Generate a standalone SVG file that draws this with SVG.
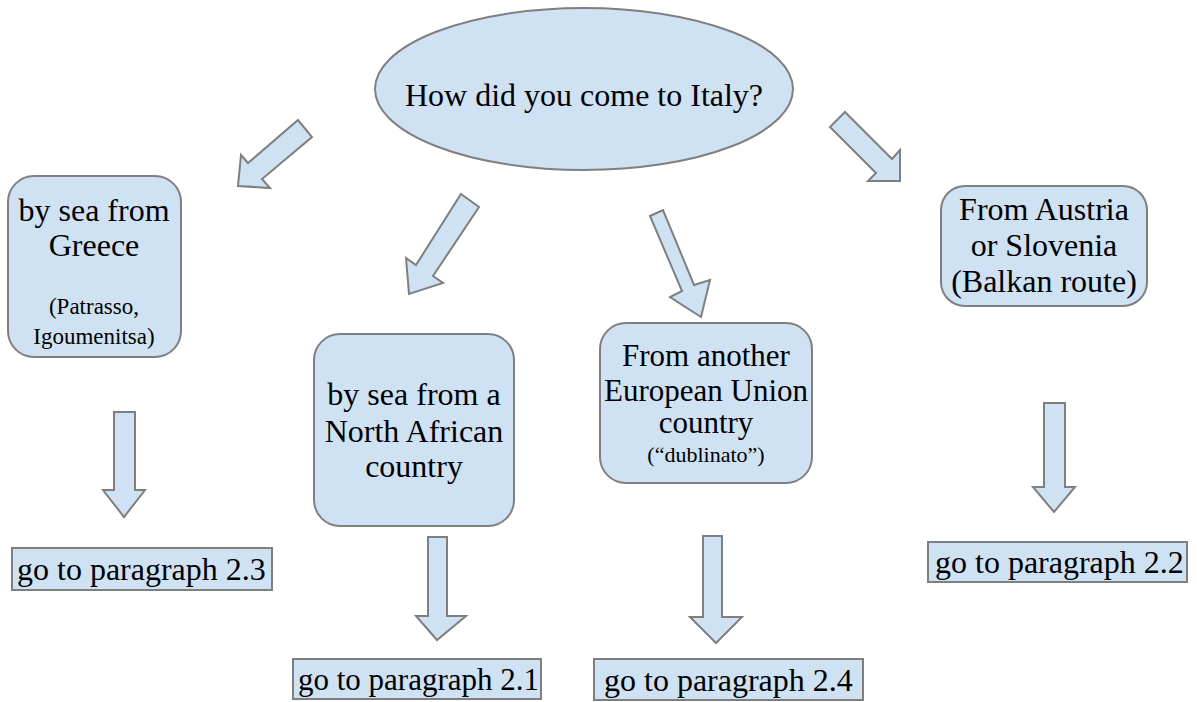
<svg xmlns="http://www.w3.org/2000/svg" width="1197" height="702" viewBox="0 0 1197 702">
<style>
.s{fill:#cfe2f3;stroke:#7f7f7f;stroke-width:2}
text{font-size:32px;fill:#000}
.m{text-anchor:middle}
.sm{font-size:23px}
.e{font-size:31px}
</style>
<rect width="1197" height="702" fill="#fff"/>
<g font-family="Liberation Serif, Times New Roman, serif">
<g id="q">
<ellipse class="s" cx="584" cy="89" rx="209" ry="81"/>
<text class="m" x="584" y="106">How did you come to Italy?</text>
</g>
<g id="greece">
<rect class="s" x="8" y="176" width="173" height="181" rx="26"/>
<text class="m" x="94" y="221">by sea from</text>
<text class="m" x="94" y="256">Greece</text>
<text class="m sm" x="94" y="314">(Patrasso,</text>
<text class="m sm" x="94" y="344">Igoumenitsa)</text>
</g>
<g id="africa">
<rect class="s" x="314" y="334" width="200" height="192" rx="26"/>
<text class="m" x="414" y="405">by sea from a</text>
<text class="m" x="414" y="442">North African</text>
<text class="m" x="414" y="477">country</text>
</g>
<g id="eu">
<rect class="s" x="600" y="323" width="212" height="160" rx="26"/>
<text class="m e" x="706" y="366">From another</text>
<text class="m e" x="706" y="401">European Union</text>
<text class="m e" x="706" y="433">country</text>
<text class="m sm" x="706" y="462" style="font-size:22px">(“dublinato”)</text>
</g>
<g id="austria">
<rect class="s" x="941" y="186" width="206" height="120" rx="24"/>
<text class="m" x="1044" y="220">From Austria</text>
<text class="m" x="1044" y="256"> or Slovenia</text>
<text class="m" x="1044" y="292">(Balkan route)</text>
</g>
<g id="p23">
<rect class="s" x="12" y="548" width="260" height="42"/>
<text x="17" y="580">go to paragraph 2.3</text>
</g>
<g id="p21">
<rect class="s" x="293" y="659" width="248" height="40"/>
<text x="298" y="690" style="font-size:31px">go to paragraph 2.1</text>
</g>
<g id="p24">
<rect class="s" x="594" y="659" width="269" height="41"/>
<text x="604" y="691">go to paragraph 2.4</text>
</g>
<g id="p22">
<rect class="s" x="928" y="542" width="259" height="40"/>
<text x="935" y="573">go to paragraph 2.2</text>
</g>
</g>
<g id="connectors">
<polygon class="s" points="298,120 312,137 262,179 270,188 238,186 241,155 248,163"/>
<polygon class="s" points="461,194 479,207 433,276 443,283 409,294 406,258 416,265"/>
<polygon class="s" points="650,216 663,210 694,285 710,280 701,317 670,297 682,291"/>
<polygon class="s" points="845,112 892,159 900,150 900,181 868,181 876,173 830,127"/>
<polygon class="s" points="114,412 135,412 135,490 145,490 124,517 103,490 114,490"/>
<polygon class="s" points="428,537 447,537 447,616 466,616 437,640 416,616 428,616"/>
<polygon class="s" points="703,536 722,536 722,617 742,617 716,643 690,617 703,617"/>
<polygon class="s" points="1044,403 1065,403 1065,487 1075,487 1054,512 1033,487 1044,487"/>
</g>
</svg>
